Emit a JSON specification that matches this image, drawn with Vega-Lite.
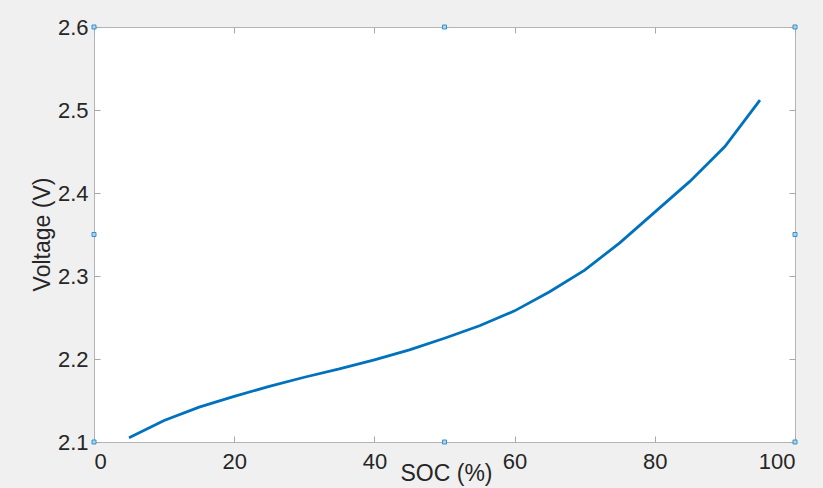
{
  "$schema": "https://vega.github.io/schema/vega-lite/v6.json",
  "width": 701,
  "height": 415,
  "autosize": {"type": "none"},
  "padding": {"left": 94, "top": 27, "right": 28, "bottom": 46},
  "background": "#f0f0f0",
  "config": {
    "view": {"fill": "white", "stroke": "#b4b4b4", "strokeWidth": 1},
    "font": "Liberation Sans",
    "axis": {
      "labelFont": "Liberation Sans",
      "titleFont": "Liberation Sans",
      "labelFontSize": 22,
      "titleFontSize": 23,
      "labelColor": "#262626",
      "titleColor": "#262626",
      "titleFontWeight": "normal",
      "grid": false,
      "domain": false,
      "tickColor": "#a8a8a8",
      "tickSize": -6,
      "tickWidth": 1
    }
  },
  "datasets": {
    "curve": [
      {"soc": 5, "voltage": 2.105},
      {"soc": 10, "voltage": 2.126},
      {"soc": 15, "voltage": 2.142},
      {"soc": 20, "voltage": 2.155},
      {"soc": 25, "voltage": 2.167},
      {"soc": 30, "voltage": 2.178},
      {"soc": 35, "voltage": 2.188},
      {"soc": 40, "voltage": 2.199},
      {"soc": 45, "voltage": 2.211},
      {"soc": 50, "voltage": 2.225},
      {"soc": 55, "voltage": 2.240},
      {"soc": 60, "voltage": 2.258},
      {"soc": 65, "voltage": 2.281},
      {"soc": 70, "voltage": 2.307},
      {"soc": 75, "voltage": 2.340},
      {"soc": 80, "voltage": 2.377},
      {"soc": 85, "voltage": 2.414},
      {"soc": 90, "voltage": 2.456},
      {"soc": 95, "voltage": 2.512}
    ],
    "handles": [
      {"soc": 0, "voltage": 2.6},
      {"soc": 50, "voltage": 2.6},
      {"soc": 100, "voltage": 2.6},
      {"soc": 0, "voltage": 2.35},
      {"soc": 100, "voltage": 2.35},
      {"soc": 0, "voltage": 2.1},
      {"soc": 50, "voltage": 2.1},
      {"soc": 100, "voltage": 2.1}
    ]
  },
  "layer": [
    {
      "data": {"name": "curve"},
      "mark": {"type": "line", "color": "#0072BD", "strokeWidth": 2.8},
      "encoding": {
        "x": {
          "field": "soc", "type": "quantitative",
          "scale": {"domain": [0, 100], "nice": false, "zero": false},
          "axis": {
            "orient": "bottom",
            "values": [0, 20, 40, 60, 80, 100],
            "labelPadding": 15,
            "title": "SOC (%)",
            "titleX": 352,
            "titleY": 31,
            "titleBaseline": "middle",
            "titleAnchor": null,
            "titleAlign": "center"
          }
        },
        "y": {
          "field": "voltage", "type": "quantitative",
          "scale": {"domain": [2.1, 2.6], "nice": false, "zero": false},
          "axis": {
            "orient": "left",
            "values": [2.1, 2.2, 2.3, 2.4, 2.5, 2.6],
            "format": ".1f",
            "labelPadding": 12,
            "title": "Voltage (V)",
            "titleX": -52,
            "titleY": 207,
            "titleAngle": -90,
            "titleBaseline": "middle",
            "titleAlign": "center",
            "titleAnchor": null
          }
        }
      }
    },
    {
      "data": {"name": "handles"},
      "mark": {"type": "point", "shape": "square", "size": 16, "filled": true, "fill": "#a9d6ef", "stroke": "#3a8fd0", "strokeWidth": 1, "opacity": 1, "clip": false},
      "encoding": {
        "x": {
          "field": "soc", "type": "quantitative",
          "axis": {"orient": "top", "values": [0, 20, 40, 60, 80, 100], "labels": false, "title": null}
        },
        "y": {
          "field": "voltage", "type": "quantitative",
          "axis": {"orient": "right", "values": [2.1, 2.2, 2.3, 2.4, 2.5, 2.6], "labels": false, "title": null}
        }
      }
    }
  ]
}
